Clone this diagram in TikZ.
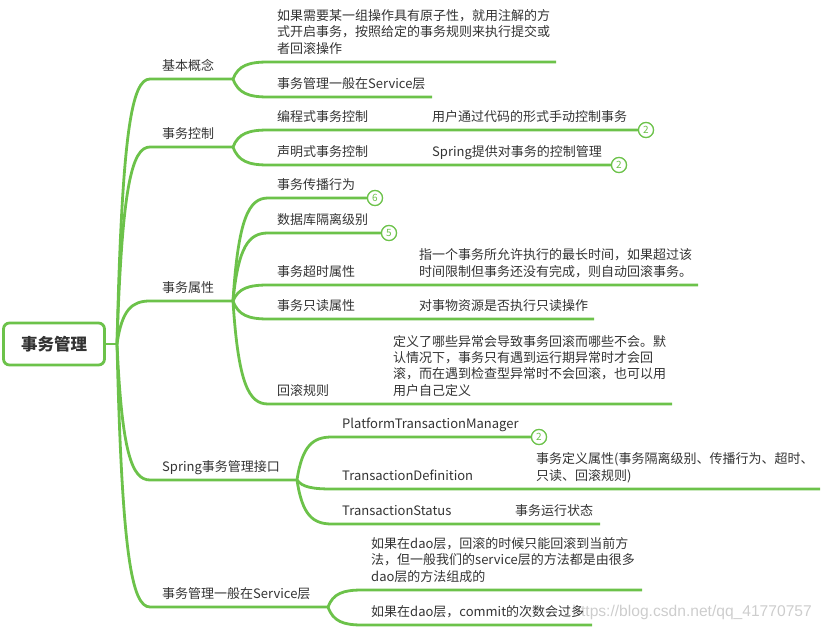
\documentclass[tikz,border=0pt]{standalone}
\usepackage{fontspec}
\setmainfont{Noto Sans CJK SC}
\newfontfamily\wmfont{Liberation Sans}
\usetikzlibrary{calc}
\definecolor{xgreen}{RGB}{108,194,74}
\definecolor{xtext}{RGB}{51,51,51}
\definecolor{wmgray}{RGB}{205,205,205}
\begin{document}
\begin{tikzpicture}[x=1pt,y=-1pt,
  conn/.style={draw=xgreen, line width=2.8pt},
  curvy/.style={to path={let \p1=(\tikztostart), \p2=(\tikztotarget) in
     .. controls (\x1+0.15*\x2-0.15*\x1, \y1+0.8*\y2-0.8*\y1) and (\x1+0.45*\x2-0.45*\x1, \y2) .. (\tikztotarget)}},
  lbl/.style={anchor=base west, inner sep=0pt, text=xtext, font=\fontsize{13}{16.3}\selectfont, align=left},
  cnt/.style={circle, draw=xgreen, fill=white, line width=1.2pt, minimum size=15pt, inner sep=0pt, text=xgreen, font=\fontsize{10}{10}\selectfont},
  rootbox/.style={draw=xgreen, line width=2.8pt, rounded corners=6pt, fill=white, minimum width=101pt, minimum height=42pt, inner sep=0pt, text=xtext, font=\fontsize{16.5}{18}\selectfont\bfseries}
]
\useasboundingbox (0,0) rectangle (822,629);

% watermark
\node[anchor=base east, inner sep=0pt, text=wmgray, font=\wmfont\fontsize{15.6}{16}\selectfont] (wm) at (812,616) {https://blog.csdn.net/qq\_41770757};

% coordinates
\coordinate (t0) at (117,344);
\coordinate (p1s) at (150,79);  \coordinate (p1e) at (233,79);
\coordinate (p2s) at (150,147); \coordinate (p2e) at (233,147);
\coordinate (p3s) at (150,301); \coordinate (p3e) at (233,301);
\coordinate (p4s) at (150,480); \coordinate (p4e) at (297,480);
\coordinate (p5s) at (150,607); \coordinate (p5e) at (328,607);

\coordinate (a1s) at (268,62);  \coordinate (a1e) at (556,62);
\coordinate (a2s) at (268,97);  \coordinate (a2e) at (432,97);

\coordinate (b1s) at (268,130); \coordinate (b1m) at (423,130);
\coordinate (b2s) at (268,165); \coordinate (b2m) at (423,165);

\coordinate (c1s) at (268,198);
\coordinate (c2s) at (268,233);
\coordinate (c3s) at (268,285); \coordinate (c3m) at (410,285); \coordinate (c3e) at (698,285);
\coordinate (c4s) at (268,319); \coordinate (c4m) at (410,319); \coordinate (c4e) at (594,319);
\coordinate (c5s) at (268,404); \coordinate (c5m) at (384,404); \coordinate (c5e) at (672,404);

\coordinate (d1s) at (332,437);
\coordinate (d2s) at (332,489); \coordinate (d2m) at (527,489); \coordinate (d2e) at (820,489);
\coordinate (d3s) at (332,524); \coordinate (d3m) at (505,524); \coordinate (d3e) at (600,524);

\coordinate (e1s) at (362,590); \coordinate (e1e) at (642,590);
\coordinate (e2s) at (362,625); \coordinate (e2e) at (592,625);

% count circles
\node[cnt] (nb1) at (646,130) {2};
\node[cnt] (nb2) at (619,165) {2};
\node[cnt] (nc1) at (375,198) {6};
\node[cnt] (nc2) at (389,233) {5};
\node[cnt] (nd1) at (539,437) {2};

% connectors
\draw[conn] (105,344) -- (t0);
\draw[conn] (t0) to[curvy] (p1s) -- (p1e);
\draw[conn] (t0) to[curvy] (p2s) -- (p2e);
\draw[conn] (t0) to[curvy] (p3s) -- (p3e);
\draw[conn] (t0) to[curvy] (p4s) -- (p4e);
\draw[conn] (t0) to[curvy] (p5s) -- (p5e);

\draw[conn] (p1e) to[curvy] (a1s) -- (a1e);
\draw[conn] (p1e) to[curvy] (a2s) -- (a2e);

\draw[conn] (p2e) to[curvy] (b1s) -- (b1m) -- (nb1.west);
\draw[conn] (p2e) to[curvy] (b2s) -- (b2m) -- (nb2.west);

\draw[conn] (p3e) to[curvy] (c1s) -- (nc1.west);
\draw[conn] (p3e) to[curvy] (c2s) -- (nc2.west);
\draw[conn] (p3e) to[curvy] (c3s) -- (c3m) -- (c3e);
\draw[conn] (p3e) to[curvy] (c4s) -- (c4m) -- (c4e);
\draw[conn] (p3e) to[curvy] (c5s) -- (c5m) -- (c5e);

\draw[conn] (p4e) to[curvy] (d1s) -- (nd1.west);
\draw[conn] (p4e) to[curvy] (d2s) -- (d2m) -- (d2e);
\draw[conn] (p4e) to[curvy] (d3s) -- (d3m) -- (d3e);

\draw[conn] (p5e) to[curvy] (e1s) -- (e1e);
\draw[conn] (p5e) to[curvy] (e2s) -- (e2e);

% redraw circles on top
\node[cnt] at (nb1) {2};
\node[cnt] at (nb2) {2};
\node[cnt] at (nc1) {6};
\node[cnt] at (nc2) {5};
\node[cnt] at (nd1) {2};

% root
\node[rootbox] (root) at (54,344) {事务管理};

% level 1
\node[lbl] (l1) at (162,70) {基本概念};
\node[lbl] (l2) at (162,138) {事务控制};
\node[lbl] (l3) at (162,292) {事务属性};
\node[lbl] (l4) at (162,471) {Spring事务管理接口};
\node[lbl] (l5) at (162,598) {事务管理一般在Service层};

% level 2 and 3 (multi-line nodes: base = last line)
\node[lbl] (ta1) at (277,53) {如果需要某一组操作具有原子性，就用注解的方\\式开启事务，按照给定的事务规则来执行提交或\\者回滚操作};
\node[lbl] (ta2) at (277,88) {事务管理一般在Service层};

\node[lbl] (tb1) at (277,121) {编程式事务控制};
\node[lbl] (tb1g) at (432,121) {用户通过代码的形式手动控制事务};
\node[lbl] (tb2) at (277,156) {声明式事务控制};
\node[lbl] (tb2g) at (432,156) {Spring提供对事务的控制管理};

\node[lbl] (tc1) at (277,189) {事务传播行为};
\node[lbl] (tc2) at (277,224) {数据库隔离级别};
\node[lbl] (tc3) at (277,276) {事务超时属性};
\node[lbl] (tc3g) at (419,276) {指一个事务所允许执行的最长时间，如果超过该\\时间限制但事务还没有完成，则自动回滚事务。};
\node[lbl] (tc4) at (277,310) {事务只读属性};
\node[lbl] (tc4g) at (419,310) {对事物资源是否执行只读操作};
\node[lbl] (tc5) at (277,395) {回滚规则};
\node[lbl] (tc5g) at (393,395) {定义了哪些异常会导致事务回滚而哪些不会。默\\认情况下，事务只有遇到运行期异常时才会回\\滚，而在遇到检查型异常时不会回滚，也可以用\\用户自己定义};

\node[lbl] (td1) at (342,428) {PlatformTransactionManager};
\node[lbl] (td2) at (342,480) {TransactionDefinition};
\node[lbl] (td2g) at (536,480) {事务定义属性(事务隔离级别、传播行为、超时、\\只读、回滚规则)};
\node[lbl] (td3) at (342,515) {TransactionStatus};
\node[lbl] (td3g) at (515,515) {事务运行状态};

\node[lbl] (te1) at (371,581) {如果在dao层，回滚的时候只能回滚到当前方\\法，但一般我们的service层的方法都是由很多\\dao层的方法组成的};
\node[lbl] (te2) at (371,616) {如果在dao层，commit的次数会过多};
\end{tikzpicture}
\end{document}
